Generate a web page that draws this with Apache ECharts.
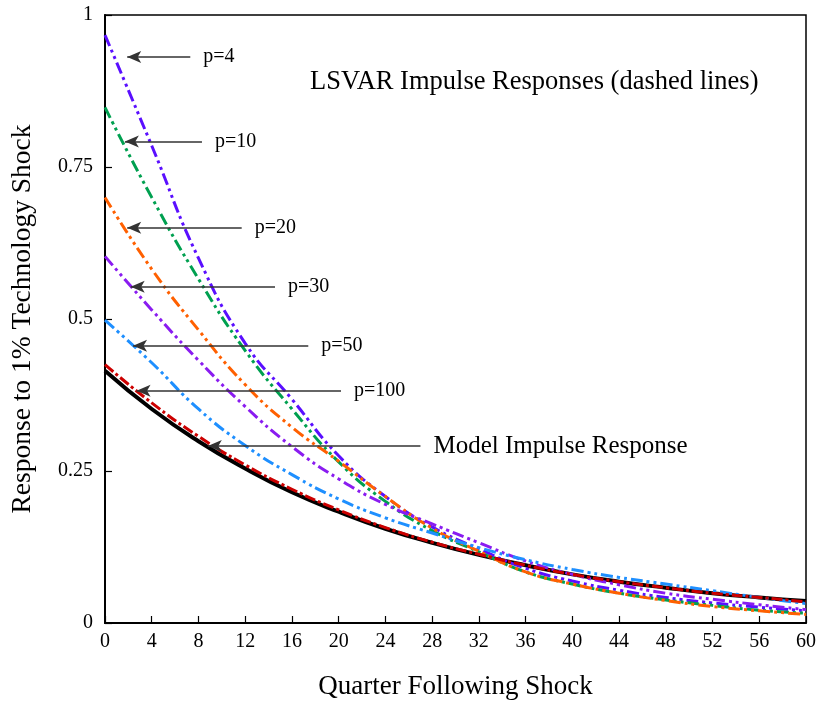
<!DOCTYPE html>
<html>
<head>
<meta charset="utf-8">
<script src="https://cdn.jsdelivr.net/npm/echarts@6/dist/echarts.min.js"></script>
<style>html,body{margin:0;padding:0;background:#fff}#c{width:817px;height:702px}</style>
</head>
<body>
<div id="c"></div>
<script>
const quarters = [0,4,8,12,16,20,24,28,32,36,40,44,48,52,56,60];
const model  = [0.415,0.352,0.299,0.254,0.215,0.183,0.155,0.132,0.112,0.095,0.080,0.068,0.058,0.049,0.042,0.036];
const p4     = [0.967,0.785,0.600,0.460,0.368,0.275,0.208,0.158,0.122,0.090,0.069,0.054,0.042,0.033,0.026,0.020];
const p10    = [0.848,0.700,0.566,0.448,0.352,0.265,0.200,0.152,0.117,0.084,0.064,0.049,0.038,0.029,0.021,0.016];
const p20    = [0.700,0.582,0.482,0.392,0.322,0.266,0.208,0.156,0.118,0.084,0.064,0.049,0.037,0.027,0.020,0.014];
const p30    = [0.603,0.515,0.432,0.356,0.290,0.237,0.195,0.163,0.132,0.102,0.080,0.063,0.049,0.039,0.030,0.022];
const p50    = [0.498,0.428,0.352,0.292,0.244,0.204,0.173,0.148,0.124,0.104,0.088,0.075,0.064,0.053,0.042,0.032];
const p100   = [0.425,0.362,0.307,0.260,0.220,0.186,0.157,0.133,0.113,0.095,0.080,0.068,0.058,0.049,0.042,0.035];
const xTicks = [0,4,8,12,16,20,24,28,32,36,40,44,48,52,56,60];
const yTicks = [0,0.25,0.5,0.75,1];
// annotation arrows: label, y level, arrow head x, arrow tail x
const annLabels = ['p=4','p=10','p=20','p=30','p=50','p=100','Model Impulse Response'];
const annY      = [0.931,0.792,0.650,0.553,0.456,0.382,0.291];
const annHead   = [1.9,1.7,1.9,2.2,2.4,2.7,8.8];
const annTail   = [7.3,8.3,11.7,14.55,17.4,20.2,27.0];

const FONT = "'Liberation Serif','Times New Roman',serif";
const zip = arr => quarters.map((q,i)=>[q,arr[i]]);

function curve(name, data, color, type, width, z){
  return {name, type:'line', data:zip(data), smooth:0.5, showSymbol:false, symbol:'none', z:z,
    lineStyle:{color, width, type, cap:'butt'}};
}

const DDOT = [12,4,3,4,3,4];
const series = [
  curve('Model', model, '#000000', 'solid', 4, 2),
  curve('p=4', p4, '#5a0fff', DDOT, 3, 3),
  curve('p=10', p10, '#00a050', DDOT, 3, 3),
  curve('p=20', p20, '#ff6000', DDOT, 3, 3),
  curve('p=30', p30, '#8a1cf0', DDOT, 3, 3),
  curve('p=50', p50, '#1e8fff', DDOT, 3, 3),
  curve('p=100', p100, '#cc0000', [11,3,3,3], 3, 4),
  {type:'line', data:[], silent:true, z:5,
   markLine:{silent:true, symbol:['none','arrow'], symbolSize:[9,14], animation:false,
     label:{show:false},
     lineStyle:{color:'#333333', width:1.5, type:'solid'},
     data: annLabels.map((l,i)=>[{coord:[annTail[i],annY[i]]},{coord:[annHead[i],annY[i]]}])
   }},
  {type:'scatter', silent:true, z:6, symbolSize:0, itemStyle:{color:'#000', opacity:0},
   data: annLabels.map((l,i)=>({value:[annTail[i],annY[i]], name:l,
      label:{show:true, color:'#000', fontSize: i===6 ? 25 : 20}})),
   label:{show:true, position:'right', distance:13, color:'#000', opacity:1, fontFamily:FONT, formatter:p=>p.name}}
];

const chart = echarts.init(document.getElementById('c'));
chart.setOption({
  animation:false,
  backgroundColor:'#fff',
  title:{text:'LSVAR Impulse Responses (dashed lines)', left:305, top:64,
    textStyle:{fontFamily:FONT, fontSize:26.5, fontWeight:'normal', color:'#000'}},
  grid:{left:105, right:11, top:15, bottom:79, show:true, borderColor:'#000', borderWidth:1.5,
    backgroundColor:'transparent', containLabel:false, outerBoundsMode:'none'},
  xAxis:{type:'value', min:0, max:60, interval:4,
    name:'Quarter Following Shock', nameLocation:'middle', nameGap:50,
    nameTextStyle:{fontFamily:FONT, fontSize:27, color:'#000'},
    axisLine:{show:true, onZero:false, lineStyle:{color:'#000', width:2}},
    axisTick:{show:true, inside:true, length:7, lineStyle:{color:'#000', width:1.2}},
    axisLabel:{fontFamily:FONT, fontSize:20, color:'#000', margin:9, formatter:v=>xTicks.includes(v)?String(v):''},
    splitLine:{show:false}},
  yAxis:{type:'value', min:0, max:1, interval:0.25,
    name:'Response to 1% Technology Shock', nameLocation:'middle', nameGap:68,
    nameTextStyle:{fontFamily:FONT, fontSize:27.5, color:'#000'},
    axisLine:{show:true, onZero:false, lineStyle:{color:'#000', width:2}},
    axisTick:{show:true, inside:true, length:7, lineStyle:{color:'#000', width:1.2}},
    axisLabel:{fontFamily:FONT, fontSize:20, color:'#000', margin:12, formatter:v=>yTicks.includes(v)?String(v):''},
    splitLine:{show:false}},
  series
});
</script>
</body>
</html>
